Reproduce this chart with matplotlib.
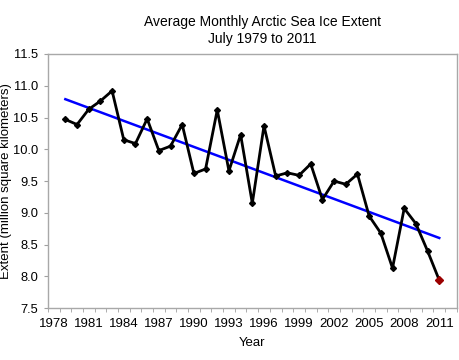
import numpy as np
import matplotlib
matplotlib.use("Agg")
import matplotlib.pyplot as plt

plt.rcParams["font.family"] = ["Liberation Sans", "DejaVu Sans"]

years = np.arange(1979, 2012)
extent = [10.47, 10.39, 10.63, 10.76, 10.92, 10.15, 10.09, 10.48, 9.98, 10.05,
          10.39, 9.62, 9.69, 10.62, 9.66, 10.23, 9.15, 10.37, 9.58, 9.63,
          9.59, 9.77, 9.21, 9.50, 9.45, 9.61, 8.95, 8.68, 8.13, 9.07,
          8.83, 8.40, 7.94]
label_years = list(range(1978, 2012, 3))
y_ticks = [7.5, 8.0, 8.5, 9.0, 9.5, 10.0, 10.5, 11.0, 11.5]

slope, intercept = np.polyfit(years, extent, 1)
trend = slope * years + intercept

fig = plt.figure(figsize=(4.6, 3.6), dpi=100)
ax = fig.add_axes([0.104, 0.144, 0.889, 0.706])

ax.plot(years, trend, color="#0000ff", lw=1.8, zorder=2)
ax.plot(years, extent, color="black", lw=2.0, marker="D", ms=3, zorder=3)
ax.plot(years[-1:], extent[-1:], ls="none", marker="D", ms=4,
        color="#9b0000", zorder=4)

ax.set_xlim(1977.5, 2012.5)
ax.set_ylim(7.5, 11.5)
ax.set_xticks(label_years)
ax.set_xticks(np.arange(1977.5, 2013, 1), minor=True)
ax.set_yticks(y_ticks)
ax.set_yticklabels([f"{v:.1f}" for v in y_ticks])
ax.tick_params(axis="x", which="major", length=0, pad=7, labelsize=9.5)
ax.tick_params(axis="x", which="minor", length=3, color="#a0a0a0")
ax.tick_params(axis="y", length=3, color="#a0a0a0", labelsize=9.3, pad=4)

for s in ax.spines.values():
    s.set_color("#a8a8a8")
    s.set_linewidth(1.0)

ax.set_xlabel("Year", fontsize=9.5, labelpad=5)
ax.set_ylabel("Extent (million square kilometers)", fontsize=9.5)
ax.yaxis.set_label_coords(-0.088, 0.5)

fig.text(0.57, 0.958, "Average Monthly Arctic Sea Ice Extent\nJuly 1979 to 2011",
         ha="center", va="top", fontsize=10, linespacing=1.25)

fig.savefig("out.png", dpi=100)
